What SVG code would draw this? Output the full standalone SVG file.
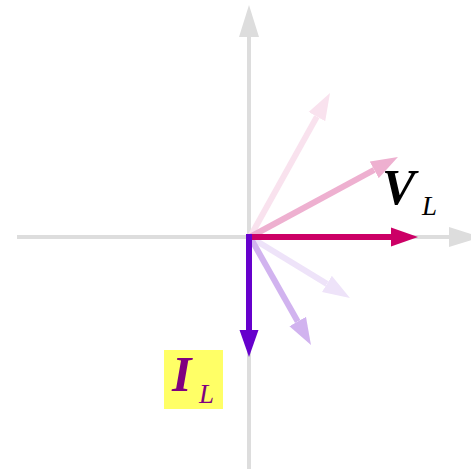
<svg xmlns="http://www.w3.org/2000/svg" width="471" height="469" viewBox="0 0 471 469">
<defs>
<style>
.ax{stroke:#dddddd;stroke-width:4;fill:none}
.v{stroke-width:6;fill:none}
.lbl{font-family:"Liberation Serif","DejaVu Serif",serif;font-style:italic}
</style>
<marker id="hAx" markerUnits="userSpaceOnUse" markerWidth="32" markerHeight="22" refX="0" refY="11" orient="auto" viewBox="0 0 32 22"><path d="M0,1 L32,11 L0,21 z" fill="#dddddd"/></marker>
<marker id="hRed" markerUnits="userSpaceOnUse" markerWidth="28" markerHeight="20" refX="0" refY="10" orient="auto" viewBox="0 0 28 20"><path d="M0,0.5 L27,10 L0,19.5 z" fill="#cc0066"/></marker>
<marker id="hPink" markerUnits="userSpaceOnUse" markerWidth="28" markerHeight="20" refX="0" refY="10" orient="auto" viewBox="0 0 28 20"><path d="M0,0.5 L27,10 L0,19.5 z" fill="#eeb0d0"/></marker>
<marker id="hPink2" markerUnits="userSpaceOnUse" markerWidth="28" markerHeight="20" refX="0" refY="10" orient="auto" viewBox="0 0 28 20"><path d="M0,0.5 L27,10 L0,19.5 z" fill="#f9e2ee"/></marker>
<marker id="hPur" markerUnits="userSpaceOnUse" markerWidth="28" markerHeight="20" refX="0" refY="10" orient="auto" viewBox="0 0 28 20"><path d="M0,0.5 L27,10 L0,19.5 z" fill="#6600cc"/></marker>
<marker id="hPur1" markerUnits="userSpaceOnUse" markerWidth="28" markerHeight="20" refX="0" refY="10" orient="auto" viewBox="0 0 28 20"><path d="M0,0.5 L27,10 L0,19.5 z" fill="#d1b3ef"/></marker>
<marker id="hPur2" markerUnits="userSpaceOnUse" markerWidth="28" markerHeight="20" refX="0" refY="10" orient="auto" viewBox="0 0 28 20"><path d="M0,0.5 L27,10 L0,19.5 z" fill="#eee3f9"/></marker>
</defs>
<rect width="471" height="469" fill="#ffffff"/>
<g id="axes">
<line class="ax" x1="17" y1="237" x2="449" y2="237" marker-end="url(#hAx)"/>
<line class="ax" x1="249" y1="469" x2="249" y2="37" marker-end="url(#hAx)"/>
</g>
<g id="connectors">
<line class="v" x1="250" y1="237" x2="316.9" y2="116.6" stroke="#f9e2ee" marker-end="url(#hPink2)"/>
<line class="v" x1="250" y1="237" x2="374.2" y2="169.8" stroke="#eeb0d0" marker-end="url(#hPink)"/>
<line class="v" x1="250" y1="237" x2="326.9" y2="283.9" stroke="#eee3f9" marker-end="url(#hPur2)"/>
<line class="v" x1="250" y1="237" x2="297.7" y2="321.5" stroke="#d1b3ef" marker-end="url(#hPur1)"/>
<line class="v" x1="249" y1="237" x2="391" y2="237" stroke="#cc0066" marker-end="url(#hRed)"/>
<line class="v" x1="249" y1="234" x2="249" y2="330" stroke="#6600cc" marker-end="url(#hPur)"/>
</g>
<g id="VL">
<text class="lbl" x="382" y="204" font-size="50" font-weight="bold" fill="#000000">V</text>
<text class="lbl" x="422" y="215" font-size="27" fill="#000000">L</text>
</g>
<g id="IL">
<rect x="164" y="350" width="59" height="59" fill="#ffff66"/>
<text class="lbl" x="172" y="391" font-size="50" font-weight="bold" fill="#800080">I</text>
<text class="lbl" x="199" y="403" font-size="27" fill="#800080">L</text>
</g>
</svg>
